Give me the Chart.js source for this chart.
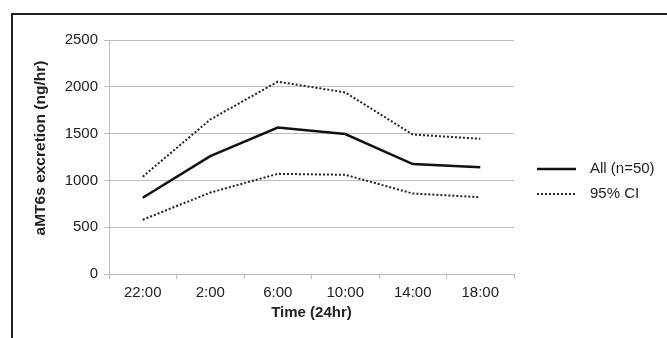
<!DOCTYPE html>
<html>
<head>
<meta charset="utf-8">
<script src="https://cdn.jsdelivr.net/npm/chart.js@4/dist/chart.umd.min.js"></script>
<style>
  body { margin: 0; background: #fff; }
  #wrap { position: relative; width: 667px; height: 338px; overflow: hidden; }
  #frame { position: absolute; left: 11px; top: 13px; width: 700px; height: 400px;
           border-top: 2px solid #222; border-left: 2px solid #222; }
  #canvas { position: absolute; left: 0; top: 0; }
</style>
</head>
<body>
<div id="wrap">
  <div id="frame"></div>
  <canvas id="canvas" width="667" height="338"></canvas>
</div>
<script>
var times = ['22:00', '2:00', '6:00', '10:00', '14:00', '18:00'];
var allMean = [815, 1260, 1565, 1495, 1175, 1140];
var ciUpper = [1040, 1650, 2055, 1940, 1490, 1445];
var ciLower = [580, 870, 1070, 1060, 860, 820];
var yTicks = [0, 500, 1000, 1500, 2000, 2500];

var fontName = "'Liberation Sans', Arial, sans-serif";

// legend + rotated y title drawn by hand, Excel style
var extras = {
    id: 'extras',
    afterDraw: function(chart){
        var ctx = chart.ctx;
        var area = chart.chartArea;
        ctx.save();
        ctx.fillStyle = '#222';
        ctx.font = 'bold 15.5px ' + fontName;
        ctx.textAlign = 'center';
        ctx.textBaseline = 'middle';
        ctx.translate(41, (area.top + area.bottom) / 2 - 9);
        ctx.rotate(-Math.PI / 2);
        ctx.fillText('aMT6s excretion (ng/hr)', 0, 0);
        ctx.restore();

        var items = [chart.data.datasets[0], chart.data.datasets[1]];
        ctx.save();
        ctx.font = '15px ' + fontName;
        ctx.textBaseline = 'middle';
        ctx.textAlign = 'left';
        items.forEach(function(ds, i){
            var y = 169 + i * 25;
            ctx.strokeStyle = ds.borderColor;
            ctx.lineWidth = ds.borderWidth;
            ctx.setLineDash(ds.borderDash || []);
            ctx.beginPath();
            ctx.moveTo(537, y);
            ctx.lineTo(576, y);
            ctx.stroke();
            ctx.fillStyle = '#222';
            ctx.fillText(ds.label, 590, y);
        });
        ctx.restore();
    }
};

var ctx = document.getElementById('canvas').getContext('2d');
var myChart = new Chart(ctx, {
    type: 'line',
    data: {
        labels: times,
        datasets: [{
            label: 'All (n=50)',
            data: allMean,
            borderColor: '#111',
            borderWidth: 2.5,
            pointRadius: 0,
            fill: false
        },
        {
            label: '95% CI',
            data: ciUpper,
            borderColor: '#222',
            borderWidth: 2,
            borderDash: [2, 2],
            pointRadius: 0,
            fill: false
        },
        {
            label: '95% CI lower',
            data: ciLower,
            borderColor: '#222',
            borderWidth: 2,
            borderDash: [2, 2],
            pointRadius: 0,
            fill: false
        }]
    },
    options: {
        responsive: false,
        animation: false,
        elements: { line: { tension: 0 } },
        layout: { padding: { left: 0, right: 153, top: 40, bottom: 0 } },
        plugins: {
            legend: { display: false },
            tooltip: { enabled: false }
        },
        scales: {
            x: {
                offset: true,
                afterFit: function(scale){ scale.height = 64; },
                grid: {
                    display: true,
                    offset: true,
                    drawOnChartArea: false,
                    drawTicks: true,
                    tickLength: 5,
                    color: '#bdbdbd'
                },
                border: { color: '#bdbdbd', width: 1 },
                ticks: {
                    color: '#222',
                    padding: 5,
                    maxRotation: 0,
                    font: { family: fontName, size: 15 }
                },
                title: {
                    display: true,
                    text: 'Time (24hr)',
                    color: '#222',
                    padding: { top: 4, bottom: 16 },
                    font: { family: fontName, size: 15, weight: 'bold' }
                }
            },
            y: {
                min: 0,
                max: 2500,
                afterFit: function(scale){ scale.width = 109; },
                afterBuildTicks: function(scale){
                    scale.ticks = yTicks.map(function(v){ return { value: v }; });
                },
                grid: {
                    color: '#bdbdbd',
                    lineWidth: 1,
                    tickLength: 5
                },
                border: { color: '#bdbdbd', width: 1 },
                ticks: {
                    color: '#222',
                    padding: 6,
                    font: { family: fontName, size: 15 },
                    callback: function(v){ return String(v); }
                }
            }
        }
    },
    plugins: [extras]
});
</script>
</body>
</html>
